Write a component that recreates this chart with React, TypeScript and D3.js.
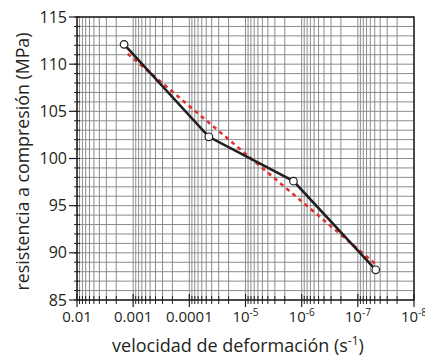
import React, { useEffect, useRef } from 'react';
import * as d3 from 'd3';

// measured points (strain rate in s^-1, strength in MPa)
const rates = [1.45e-3, 4.5e-5, 1.4e-6, 4.8e-8];
const strengths = [112.1, 102.3, 97.6, 88.2];

// red dashed fit line
const fitRates = [1.25e-3, 4.4e-8];
const fitStrengths = [111.1, 88.6];

const xTicks = [1e-2, 1e-3, 1e-4, 1e-5, 1e-6, 1e-7, 1e-8];
const xTickLabels = ['0.01', '0.001', '0.0001', '10|-5', '10|-6', '10|-7', '10|-8'];
const yTicks = [85, 90, 95, 100, 105, 110, 115];

const FONT = '"Open Sans", "Noto Sans", sans-serif';
const INK = '#231f20';

const App = () => {
  const svgRef = useRef<SVGSVGElement>(null);

  useEffect(() => {
    const svg = d3.select(svgRef.current);
    svg.selectAll('*').remove();

    const left = 77, right = 414, top = 17, bottom = 300;

    const x = d3.scaleLog().domain([1e-2, 1e-8]).range([left, right]);
    const y = d3.scaleLinear().domain([85, 115]).range([bottom, top]);

    // minor log positions inside each decade
    const minor: number[] = [];
    for (let e = -3; e >= -8; e--) {
      for (let k = 2; k <= 9; k++) minor.push(k * Math.pow(10, e));
    }
    const yMinor = d3.range(85, 116, 1);

    const grid = svg.append('g');
    grid.selectAll('line.vx')
      .data([...minor, ...xTicks])
      .enter()
      .append('line')
      .attr('x1', d => x(d)).attr('x2', d => x(d))
      .attr('y1', top).attr('y2', bottom)
      .attr('stroke', '#8a8c8e').attr('stroke-width', 1);
    grid.selectAll('line.hy')
      .data(yMinor)
      .enter()
      .append('line')
      .attr('x1', left).attr('x2', right)
      .attr('y1', d => y(d)).attr('y2', d => y(d))
      .attr('stroke', '#8a8c8e').attr('stroke-width', 1);

    // frame
    svg.append('rect')
      .attr('x', left).attr('y', top)
      .attr('width', right - left).attr('height', bottom - top)
      .attr('fill', 'none').attr('stroke', INK).attr('stroke-width', 1.5);

    // x ticks
    svg.append('g').selectAll('line')
      .data(minor)
      .enter()
      .append('line')
      .attr('x1', d => x(d)).attr('x2', d => x(d))
      .attr('y1', bottom - 4).attr('y2', bottom + 4)
      .attr('stroke', INK).attr('stroke-width', 1);
    svg.append('g').selectAll('line')
      .data(xTicks)
      .enter()
      .append('line')
      .attr('x1', d => x(d)).attr('x2', d => x(d))
      .attr('y1', bottom - 6).attr('y2', bottom + 7)
      .attr('stroke', INK).attr('stroke-width', 1.2);

    // y ticks
    svg.append('g').selectAll('line')
      .data(yMinor)
      .enter()
      .append('line')
      .attr('x1', left - 3).attr('x2', left + 3)
      .attr('y1', d => y(d)).attr('y2', d => y(d))
      .attr('stroke', INK).attr('stroke-width', 1);
    svg.append('g').selectAll('line')
      .data(yTicks)
      .enter()
      .append('line')
      .attr('x1', left - 8).attr('x2', left)
      .attr('y1', d => y(d)).attr('y2', d => y(d))
      .attr('stroke', INK).attr('stroke-width', 1.2);

    // y tick labels
    svg.append('g').selectAll('text')
      .data(yTicks)
      .enter()
      .append('text')
      .attr('x', left - 10)
      .attr('y', d => y(d) + 5.5)
      .attr('text-anchor', 'end')
      .attr('font-family', FONT).attr('font-size', 16).attr('fill', INK)
      .text(d => d);

    // x tick labels
    xTicks.forEach((t, i) => {
      const [base, exp] = xTickLabels[i].split('|');
      const txt = svg.append('text')
        .attr('x', x(t))
        .attr('y', 322)
        .attr('text-anchor', 'middle')
        .attr('font-family', FONT).attr('font-size', 15).attr('fill', INK);
      txt.append('tspan').text(base);
      if (exp) {
        txt.append('tspan').attr('dy', -6).attr('font-size', 10).text(exp);
      }
    });

    // fit line (red dashed)
    const line = d3.line<[number, number]>()
      .x(d => x(d[0]))
      .y(d => y(d[1]));

    svg.append('path')
      .datum(fitRates.map((r, i) => [r, fitStrengths[i]] as [number, number]))
      .attr('fill', 'none')
      .attr('stroke', '#e0312b')
      .attr('stroke-width', 2.6)
      .attr('stroke-dasharray', '4,4')
      .attr('d', line);

    // data line
    const pts = rates.map((r, i) => [r, strengths[i]] as [number, number]);
    svg.append('path')
      .datum(pts)
      .attr('fill', 'none')
      .attr('stroke', INK)
      .attr('stroke-width', 2.6)
      .attr('d', line);

    svg.append('g').selectAll('circle')
      .data(pts)
      .enter()
      .append('circle')
      .attr('cx', d => x(d[0]))
      .attr('cy', d => y(d[1]))
      .attr('r', 3.8)
      .attr('fill', '#fff')
      .attr('stroke', INK)
      .attr('stroke-width', 1.2);

    // axis titles
    const xt = svg.append('text')
      .attr('x', 238)
      .attr('y', 352)
      .attr('text-anchor', 'middle')
      .attr('font-family', FONT).attr('font-size', 18).attr('fill', INK);
    xt.append('tspan').text('velocidad de deformación (s');
    xt.append('tspan').attr('dy', -7).attr('font-size', 12).text('-1');
    xt.append('tspan').attr('dy', 7).text(')');

    svg.append('text')
      .attr('transform', `translate(29,${(top + bottom) / 2 + 3}) rotate(-90)`)
      .attr('text-anchor', 'middle')
      .attr('font-family', FONT).attr('font-size', 17.8).attr('fill', INK)
      .text('resistencia a compresión (MPa)');
  }, []);

  return (
    <svg
      ref={svgRef}
      width={425}
      height={358}
      style={{ position: 'absolute', left: 0, top: 0, background: '#fff' }}
    />
  );
};

export default App;
